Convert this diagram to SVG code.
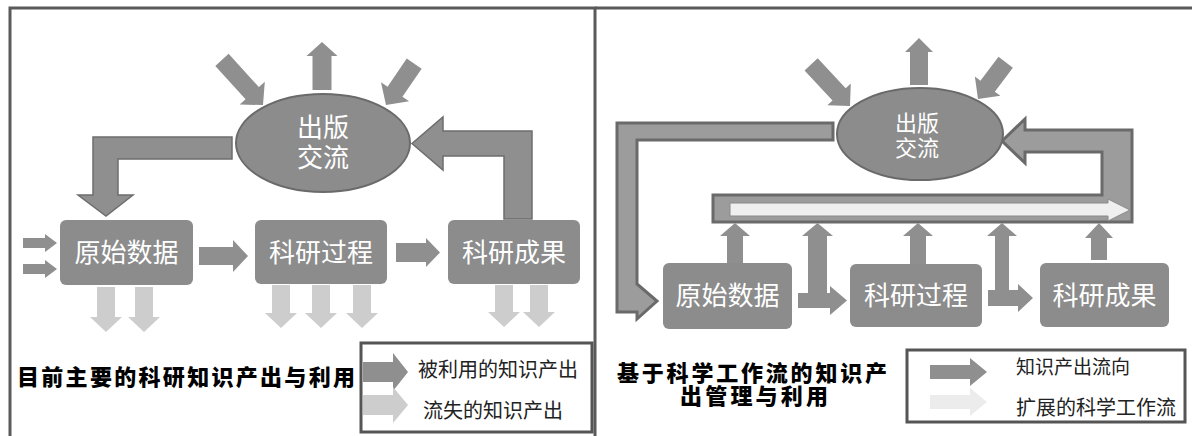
<svg xmlns="http://www.w3.org/2000/svg" width="1192" height="436" viewBox="0 0 1192 436">
<defs>
<style>
.frame{fill:none;stroke:#5a5a5a;stroke-width:3}
.node rect{fill:#8c8c8c}
.ell{fill:#8c8c8c;stroke:#6a6a6a;stroke-width:2}
.nt{font-family:"Liberation Sans","Noto Sans CJK SC",sans-serif;fill:#ffffff;text-anchor:middle}
.dk{fill:#8f8f8f}
.lt{fill:#cdcdcd}
.bent{fill:#8f8f8f;stroke:#6e6e6e;stroke-width:1.5}
.frm{fill:#9c9c9c;stroke:#6a6a6a;stroke-width:3}
.wf{fill:#efefef;stroke:#8a8a8a;stroke-width:1}
.title{font-family:"Liberation Sans","Noto Sans CJK SC",sans-serif;font-weight:900;fill:#000}
.leg{fill:#ffffff;stroke:#555;stroke-width:3}
.lt2{fill:#ececec}
.lg{font-family:"Liberation Serif","Noto Sans CJK SC",serif;fill:#222}
</style>
</defs>
<rect width="1192" height="436" fill="#ffffff"/>
<g id="frames">
<rect class="frame" x="10" y="8" width="585" height="440"/>
<line class="frame" x1="595" y1="8" x2="1192" y2="8"/>
</g>

<!-- LEFT PANEL -->
<g id="left-connectors">
<polygon class="dk" transform="translate(263,105) rotate(47.7)" points="-61,-9 -16,-9 -16,-17 0,0 -16,17 -16,9 -61,9"/>
<polygon class="dk" transform="translate(322,42) rotate(-90)" points="-48,-9.5 -14,-9.5 -14,-15.5 0,0 -14,15.5 -14,9.5 -48,9.5"/>
<polygon class="dk" transform="translate(386,105) rotate(124.3)" points="-50,-9 -16,-9 -16,-17 0,0 -16,17 -16,9 -50,9"/>
<polygon class="bent" points="232,137 93,137 93,195 78,195 106,216 133,195 118,195 118,159 232,159"/>
<polygon class="bent" points="532,219 532,131 443,131 443,117 412,143.5 443,170 443,156 504,156 504,219"/>
<polygon class="dk" points="23,238 45,238 45,234 57,243 45,252 45,248 23,248"/>
<polygon class="dk" points="23,264 45,264 45,260 57,269 45,278 45,274 23,274"/>
<polygon class="dk" points="199,247 233,247 233,240 248,256 233,272 233,265 199,265"/>
<polygon class="dk" points="396,243 426,243 426,238 440,252.5 426,267 426,262 396,262"/>
<polygon class="lt" points="97,287 115,287 115,317 122,317 106,332 90,317 97,317"/>
<polygon class="lt" points="135,287 153,287 153,317 160,317 144,332 128,317 135,317"/>
<polygon class="lt" points="272,285 290,285 290,313 297,313 281,328 265,313 272,313"/>
<polygon class="lt" points="312,285 330,285 330,313 337,313 321,328 305,313 312,313"/>
<polygon class="lt" points="353,285 371,285 371,313 378,313 362,328 346,313 353,313"/>
<polygon class="lt" points="495,285 513,285 513,312 520,312 504,327 488,312 495,312"/>
<polygon class="lt" points="530,285 548,285 548,312 555,312 539,327 523,312 530,312"/>
</g>
<g id="L-pub" class="node">
<ellipse class="ell" cx="323" cy="143" rx="87" ry="49"/>
<text class="nt" x="323" y="137" font-size="26">出版</text>
<text class="nt" x="323" y="167" font-size="26">交流</text>
</g>
<g id="L-raw" class="node">
<rect x="60" y="220" width="133" height="65" rx="6"/>
<text class="nt" x="126.5" y="262" font-size="26">原始数据</text>
</g>
<g id="L-proc" class="node">
<rect x="255" y="220" width="132" height="64" rx="6"/>
<text class="nt" x="321" y="262" font-size="26">科研过程</text>
</g>
<g id="L-res" class="node">
<rect x="448" y="220" width="132" height="64" rx="6"/>
<text class="nt" x="514" y="262" font-size="26">科研成果</text>
</g>
<g id="L-title">
<text class="title" x="17" y="385" font-size="22" textLength="338" lengthAdjust="spacing">目前主要的科研知识产出与利用</text>
</g>
<g id="L-legend">
<rect class="leg" x="361" y="343" width="231" height="89"/>
<polygon class="dk" points="363,362 393,362 393,353 408,372 393,391 393,382 363,382"/>
<polygon class="lt" points="363,395 393,395 393,387 408,405 393,423 393,415 363,415"/>
<text class="lg" x="418" y="377" font-size="20">被利用的知识产出</text>
<text class="lg" x="423" y="418" font-size="20">流失的知识产出</text>
</g>

<!-- RIGHT PANEL -->
<g id="right-connectors">
<polygon class="dk" transform="translate(850,106) rotate(47)" points="-57,-9 -16,-9 -16,-16 0,0 -16,16 -16,9 -57,9"/>
<polygon class="dk" transform="translate(919,38) rotate(-90)" points="-47,-9 -14,-9 -14,-14 0,0 -14,14 -14,9 -47,9"/>
<polygon class="dk" transform="translate(978,99) rotate(127)" points="-46,-9 -16,-9 -16,-16 0,0 -16,16 -16,9 -46,9"/>
<polygon class="frm" points="833,123 617,123 617,312 637,312 637,319 657,301 637,284 637,140 833,140"/>
<polygon class="frm" points="713,195 1102,195 1102,152 1025,152 1025,163 1002,141 1025,119 1025,130 1132,130 1132,222 713,222"/>
<polygon class="wf" points="730,203 1108,203 1108,199 1130,210 1108,221 1108,216 730,216"/>
<polygon class="dk" points="727,263 727,236 720,236 735,223 750,236 743,236 743,263"/>
<polygon class="dk" points="798,308 798,293 808,293 808,236 802,236 817.5,223 833,236 827,236 827,293 830,293 830,286 847,300.5 830,315 830,308"/>
<polygon class="dk" points="910,264 910,236 903,236 918,223 933,236 926,236 926,264"/>
<polygon class="dk" points="988,306 988,290 995,290 995,236 987,236 1002,223 1017,236 1009,236 1009,290 1018,290 1018,284 1033,298 1018,312 1018,306"/>
<polygon class="dk" points="1091,260 1091,238 1085,238 1099,223 1113,238 1107,238 1107,260"/>
</g>
<g id="R-pub" class="node">
<ellipse class="ell" cx="920" cy="134" rx="83" ry="46"/>
<text class="nt" x="917" y="131" font-size="22">出版</text>
<text class="nt" x="917" y="156" font-size="22">交流</text>
</g>
<g id="R-raw" class="node">
<rect x="663" y="263" width="129" height="66" rx="6"/>
<text class="nt" x="727.5" y="305" font-size="26">原始数据</text>
</g>
<g id="R-proc" class="node">
<rect x="850" y="264" width="132" height="63" rx="6"/>
<text class="nt" x="916" y="305" font-size="26">科研过程</text>
</g>
<g id="R-res" class="node">
<rect x="1040" y="263" width="129" height="64" rx="6"/>
<text class="nt" x="1104.5" y="305" font-size="26">科研成果</text>
</g>
<g id="R-title">
<text class="title" x="617" y="381" font-size="22" textLength="270" lengthAdjust="spacing">基于科学工作流的知识产</text>
<text class="title" x="680" y="404" font-size="22" textLength="148" lengthAdjust="spacing">出管理与利用</text>
</g>
<g id="R-legend">
<rect class="leg" x="907" y="350" width="278" height="72"/>
<polygon class="dk" points="930,365 970,365 970,358 987,372 970,386 970,379 930,379"/>
<polygon class="lt2" points="930,395 970,395 970,388 987,402 970,416 970,409 930,409"/>
<text class="lg" x="1016" y="374" font-size="19">知识产出流向</text>
<text class="lg" x="1016" y="415" font-size="20">扩展的科学工作流</text>
</g>
</svg>
